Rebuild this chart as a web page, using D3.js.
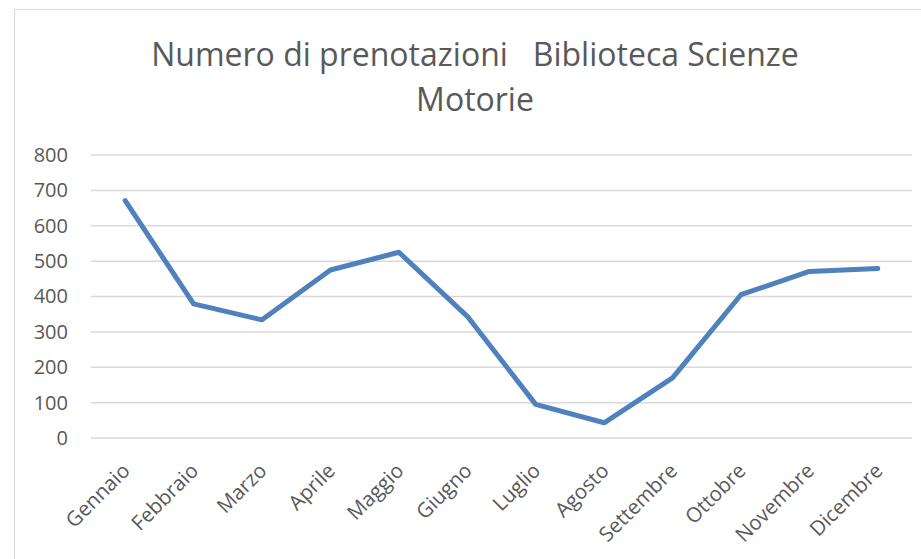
<!DOCTYPE html>
<html>
<head>
<meta charset="utf-8">
<script src="https://cdn.jsdelivr.net/npm/d3@7"></script>
<style>
  body { margin: 0; background: #fff; }
  svg { display: block; font-family: "Open Sans", sans-serif; }
</style>
</head>
<body>
<svg width="921" height="559"></svg>
<script>
var months = ["Gennaio", "Febbraio", "Marzo", "Aprile", "Maggio", "Giugno",
              "Luglio", "Agosto", "Settembre", "Ottobre", "Novembre", "Dicembre"];
var bookings = [671, 379, 334, 475, 525, 344, 95, 43, 170, 405, 471, 479];
var yTicks = [0, 100, 200, 300, 400, 500, 600, 700, 800];
var titleLines = ["Numero di prenotazioni   Biblioteca Scienze", "Motorie"];

var svg = d3.select("svg"),
    margin = {top: 155, right: 9, bottom: 121, left: 91},
    width = +svg.attr("width") - margin.left - margin.right,
    height = +svg.attr("height") - margin.top - margin.bottom;

// chart frame
svg.append("rect")
    .attr("x", 14.5)
    .attr("y", 9.5)
    .attr("width", 920)
    .attr("height", 560)
    .attr("fill", "none")
    .attr("stroke", "#d9d9d9")
    .attr("stroke-width", 1);

svg.append("text")
    .attr("x", 475)
    .attr("y", 66)
    .attr("text-anchor", "middle")
    .attr("fill", "#595959")
    .attr("font-size", "32px")
    .style("white-space", "pre")
    .selectAll("tspan")
    .data(titleLines)
  .enter().append("tspan")
    .attr("x", 475)
    .attr("dy", function(d, i) { return i ? 45 : 0; })
    .text(function(d) { return d; });

var x = d3.scaleBand().domain(months).range([0, width]),
    y = d3.scaleLinear().domain([0, 800]).range([height, 0]);

var g = svg.append("g")
    .attr("transform", "translate(" + margin.left + "," + margin.top + ")");

g.append("g")
    .selectAll("line")
    .data(yTicks)
  .enter().append("line")
    .attr("x1", 0)
    .attr("x2", width)
    .attr("y1", function(d) { return y(d); })
    .attr("y2", function(d) { return y(d); })
    .attr("stroke", "#d9d9d9")
    .attr("stroke-width", 1.5);

var yAxis = g.append("g")
    .call(d3.axisLeft(y).tickValues(yTicks).tickSize(0).tickPadding(23));
yAxis.select(".domain").remove();
yAxis.selectAll("text")
    .attr("fill", "#595959")
    .attr("font-size", "20px")
    .attr("font-family", "Open Sans, sans-serif");

var xAxis = g.append("g")
    .attr("transform", "translate(0," + height + ")")
    .call(d3.axisBottom(x).tickSize(0));
xAxis.select(".domain").remove();
xAxis.selectAll("text")
    .attr("fill", "#595959")
    .attr("font-size", "20.5px")
    .attr("font-family", "Open Sans, sans-serif")
    .attr("text-anchor", "end")
    .attr("x", 0)
    .attr("y", 0)
    .attr("dy", "0")
    .attr("transform", "translate(6,34) rotate(-45)");

var line = d3.line()
    .x(function(d, i) { return x(months[i]) + x.bandwidth() / 2; })
    .y(function(d) { return y(d); });

g.append("path")
    .datum(bookings)
    .attr("fill", "none")
    .attr("stroke", "#4f81bd")
    .attr("stroke-width", 5)
    .attr("stroke-linejoin", "round")
    .attr("stroke-linecap", "round")
    .attr("d", line);
</script>
</body>
</html>
